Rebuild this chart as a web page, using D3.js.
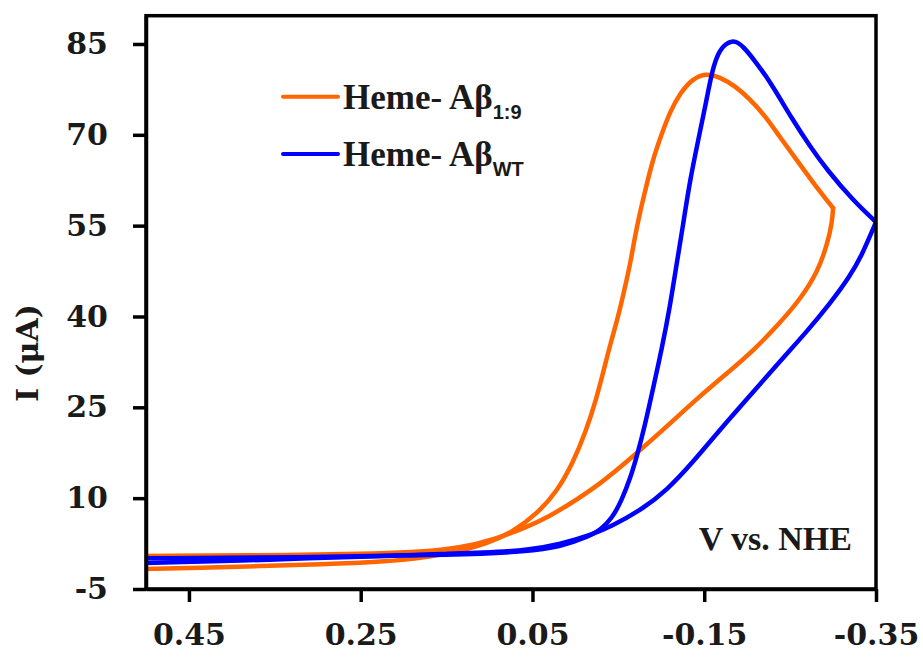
<!DOCTYPE html>
<html>
<head>
<meta charset="utf-8">
<script src="https://cdn.jsdelivr.net/npm/d3@7"></script>
<style>
  html, body { margin: 0; padding: 0; background: #fff; }
  svg { display: block; }
</style>
</head>
<body>
<svg id="chart" width="923" height="663"></svg>
<script>
// ---------- DATA ----------
const xTicks = [0.45, 0.25, 0.05, -0.15, -0.35];
const xTickLabels = ["0.45", "0.25", "0.05", "-0.15", "-0.35"];
const yTicks = [-5, 10, 25, 40, 55, 70, 85];
const yTickLabels = ["-5", "10", "25", "40", "55", "70", "85"];

// Heme-Aβ1:9 (orange) forward scan
const orangeFwdV = [0.500, 0.437, 0.367, 0.297, 0.224, 0.169, 0.134, 0.103, 0.073, 0.045, 0.021, 0.003, -0.012, -0.024, -0.033, -0.041, -0.050, -0.057, -0.064, -0.069, -0.075, -0.082, -0.090, -0.100, -0.110, -0.122, -0.136, -0.152, -0.168, -0.186, -0.203, -0.221, -0.238, -0.256, -0.277, -0.300];
const orangeFwdI = [-1.70, -1.53, -1.20, -0.95, -0.54, 0.28, 1.27, 2.51, 4.41, 7.38, 11.18, 15.81, 20.93, 26.21, 31.16, 35.62, 40.08, 44.37, 48.83, 52.96, 57.09, 61.22, 65.84, 69.97, 73.77, 76.90, 79.21, 80.21, 79.54, 78.06, 75.91, 73.10, 69.64, 66.17, 62.04, 57.91];
// Heme-Aβ1:9 (orange) reverse scan
const orangeRevV = [-0.300, -0.299, -0.293, -0.282, -0.262, -0.238, -0.208, -0.177, -0.145, -0.107, -0.067, -0.029, 0.010, 0.030, 0.056, 0.096, 0.134, 0.181, 0.228, 0.321, 0.500];
const orangeRevI = [57.91, 55.60, 51.80, 47.35, 42.89, 38.92, 34.47, 30.67, 26.87, 21.92, 16.88, 12.34, 8.71, 7.05, 5.24, 3.09, 1.77, 1.11, 0.86, 0.61, 0.45];

// Heme-AβWT (blue) forward scan
const blueFwdV = [0.500, 0.321, 0.134, 0.056, 0.018, -0.014, -0.029, -0.043, -0.054, -0.064, -0.072, -0.081, -0.090, -0.101, -0.110, -0.118, -0.125, -0.133, -0.143, -0.152, -0.160, -0.168, -0.175, -0.182, -0.189, -0.197, -0.210, -0.227, -0.253, -0.273, -0.293, -0.323, -0.350];
const blueFwdI = [0.07, 0.20, 0.61, 1.19, 1.94, 3.59, 4.74, 6.72, 9.70, 13.33, 17.13, 22.08, 27.86, 34.96, 41.57, 48.83, 54.78, 62.21, 69.14, 75.25, 81.20, 84.00, 84.99, 85.49, 85.32, 84.33, 82.02, 78.72, 72.44, 68.15, 64.19, 59.23, 55.60];
// Heme-AβWT (blue) reverse scan
const blueRevV = [-0.350, -0.343, -0.334, -0.320, -0.296, -0.270, -0.238, -0.207, -0.168, -0.137, -0.107, -0.075, -0.040, -0.021, 0.018, 0.056, 0.096, 0.204, 0.321, 0.379, 0.500];
const blueRevI = [55.60, 53.29, 50.32, 46.68, 42.06, 37.60, 32.57, 27.53, 21.26, 15.97, 11.35, 7.88, 5.24, 4.08, 2.35, 1.44, 1.03, 0.53, 0.04, -0.29, -0.71];

const seriesNames = ["Heme- Aβ", "Heme- Aβ"];
const seriesSubs = ["1:9", "WT"];
const seriesColors = ["#FF6600", "#0000FF"];

// ---------- LAYOUT ----------
const svg = d3.select("#chart");
const mLeft = 146, mRight = 876, mTop = 15.7, mBottom = 589;

const x = d3.scaleLinear().domain([0.5, -0.35]).range([mLeft, mRight]);
const y = d3.scaleLinear().domain([-5, 89.67]).range([mBottom, mTop]);

const zip = (vs, is) => vs.map((v, k) => [v, is[k]]);
const line = d3.line().x(d => x(d[0])).y(d => y(d[1])).curve(d3.curveBasis);

svg.append("clipPath").attr("id", "clip")
  .append("rect").attr("x", mLeft).attr("y", mTop).attr("width", mRight - mLeft).attr("height", mBottom - mTop);

const plot = svg.append("g").attr("clip-path", "url(#clip)");
const curves = [
  [zip(orangeFwdV, orangeFwdI), zip(orangeRevV, orangeRevI), seriesColors[0]],
  [zip(blueFwdV, blueFwdI), zip(blueRevV, blueRevI), seriesColors[1]]
];
curves.forEach(([f, r, c]) => {
  [f, r].forEach(seg => {
    plot.append("path").attr("d", line(seg))
      .attr("fill", "none").attr("stroke", c).attr("stroke-width", 4.5)
      .attr("stroke-linejoin", "round").attr("stroke-linecap", "round");
  });
});

// frame
svg.append("rect").attr("x", mLeft).attr("y", mTop).attr("width", mRight - mLeft).attr("height", mBottom - mTop)
  .attr("fill", "none").attr("stroke", "#000").attr("stroke-width", 3.5);

// axes
const yAxis = d3.axisLeft(y).tickValues(yTicks).tickFormat((d, k) => yTickLabels[k])
  .tickSize(13).tickSizeOuter(0).tickPadding(25);
const gy = svg.append("g").attr("transform", `translate(${mLeft},0)`).call(yAxis);
gy.select(".domain").attr("stroke-width", 3.5);
gy.selectAll(".tick line").attr("stroke-width", 3.5);
gy.selectAll(".tick text").attr("font-family", "'DejaVu Serif', serif").attr("font-weight", "bold")
  .attr("font-size", 30).attr("fill", "#1a1a1a");

const xAxis = d3.axisBottom(x).tickValues(xTicks).tickFormat((d, k) => xTickLabels[k])
  .tickSize(13).tickSizeOuter(0).tickPadding(22);
const gx = svg.append("g").attr("transform", `translate(0,${mBottom})`).call(xAxis);
gx.select(".domain").attr("stroke-width", 3.5);
gx.selectAll(".tick line").attr("stroke-width", 3.5);
gx.selectAll(".tick text").attr("font-family", "'DejaVu Serif', serif").attr("font-weight", "bold")
  .attr("font-size", 30).attr("fill", "#1a1a1a");

// y axis title
svg.append("text").attr("transform", "translate(38,353) rotate(-90)")
  .attr("text-anchor", "middle").attr("font-family", "'DejaVu Serif', serif").attr("font-weight", "bold")
  .attr("font-size", 30).attr("fill", "#1a1a1a").text("I (μA)");

// x annotation
svg.append("text").attr("x", 852).attr("y", 550).attr("text-anchor", "end")
  .attr("font-family", "'Liberation Serif', serif").attr("font-weight", "bold")
  .attr("font-size", 34).attr("fill", "#1a1a1a").text("V vs. NHE");

// legend
const legendY = [96.7, 154];
seriesNames.forEach((name, k) => {
  const ly = legendY[k];
  svg.append("line").attr("x1", 283).attr("x2", 338).attr("y1", ly).attr("y2", ly)
    .attr("stroke", seriesColors[k]).attr("stroke-width", 4).attr("stroke-linecap", "round");
  const t = svg.append("text").attr("x", 343).attr("y", ly + 12)
    .attr("font-family", "'Liberation Serif', serif").attr("font-weight", "bold")
    .attr("font-size", 35).attr("fill", "#1a1a1a");
  t.append("tspan").text(name);
  t.append("tspan").attr("dy", 10).attr("font-family", "'Liberation Sans', sans-serif")
    .attr("font-size", 20).text(seriesSubs[k]);
});
</script>
</body>
</html>
